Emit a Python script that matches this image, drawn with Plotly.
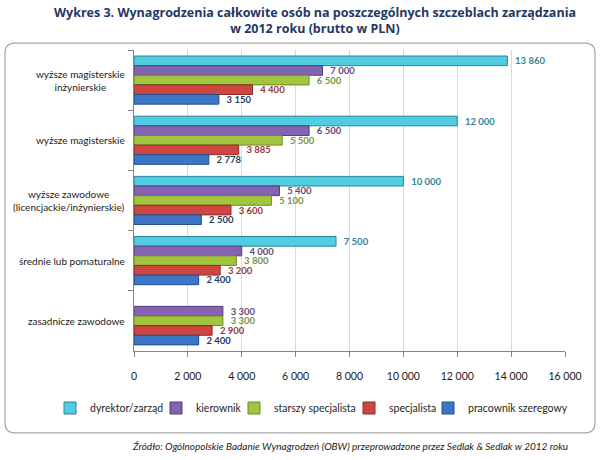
import plotly.graph_objects as go

categories = [
    "wyższe magisterskie<br>inżynierskie",
    "wyższe magisterskie",
    "wyższe zawodowe<br>(licencjackie/inżynierskie)",
    "średnie lub pomaturalne",
    "zasadnicze zawodowe",
]
series_names = ["dyrektor/zarząd", "kierownik", "starszy specjalista", "specjalista", "pracownik szeregowy"]
dyrektor = [13860, 12000, 10000, 7500, None]
kierownik = [7000, 6500, 5400, 4000, 3300]
starszy = [6500, 5500, 5100, 3800, 3300]
specjalista = [4400, 3885, 3600, 3200, 2900]
pracownik = [3150, 2778, 2500, 2400, 2400]
series_values = [dyrektor, kierownik, starszy, specjalista, pracownik]
x_ticks = [0, 2000, 4000, 6000, 8000, 10000, 12000, 14000, 16000]

bar_colors = ["#50CDE2", "#8463B3", "#A2C53F", "#CF4541", "#3D76C6"]
edge_colors = ["#2A8497", "#563D7C", "#6E8A25", "#8E2A27", "#234F8C"]
label_colors = ["#31859C", "#5F497A", "#77933C", "#953735", "#1F3864"]
legend_marker_px = [70, 176, 254, 369, 448]

def fmt(v):
    if v is None:
        return ""
    return "\u2002" + f"{v:,}".replace(",", " ")

legend_ids = ["legend", "legend2", "legend3", "legend4", "legend5"]

fig = go.Figure()
for name, vals, c, ec, lc, lid in zip(series_names, series_values, bar_colors, edge_colors, label_colors, legend_ids):
    fig.add_trace(go.Bar(
        y=categories, x=vals, name=name, orientation="h",
        marker=dict(color=c, line=dict(color=ec, width=1)),
        text=[fmt(v) for v in vals], textposition="outside",
        constraintext="none",
        textfont=dict(family="Lato", size=9.5, color=lc, weight="bold"),
        cliponaxis=False, legend=lid, showlegend=True,
    ))

L, R, T, B = 134, 35, 50, 105
W, H = 600, 460
pw, ph = W - L - R, H - T - B

def px_x(px):
    return (px - L) / pw

def px_y(py):
    return (H - B - py) / ph

# rounded border
x0, x1 = px_x(5), px_x(595)
y0, y1 = px_y(438), px_y(43)
rx, ry = 10 / pw, 10 / ph
path = (f"M {x0+rx},{y1} L {x1-rx},{y1} Q {x1},{y1} {x1},{y1-ry} "
        f"L {x1},{y0+ry} Q {x1},{y0} {x1-rx},{y0} L {x0+rx},{y0} "
        f"Q {x0},{y0} {x0},{y0+ry} L {x0},{y1-ry} Q {x0},{y1} {x0+rx},{y1} Z")

annotations = []
for cat in categories:
    annotations.append(dict(
        x=px_x(127), xref="paper", y=cat, yref="y", text=cat,
        xanchor="right", yanchor="middle", align="center", showarrow=False,
        font=dict(family="Lato", size=10, color="#1a1a1a"),
    ))
annotations.append(dict(
    x=0.5, xref="paper", y=px_y(451), yref="paper",
    text="<i>Źródło: Ogólnopolskie Badanie Wynagrodzeń (OBW) przeprowadzone przez Sedlak &amp; Sedlak w 2012 roku</i>",
    showarrow=False, xanchor="center", yanchor="middle",
    font=dict(family="Lato", size=10, color="#1a1a1a"),
))

legend_layouts = {}
for lid, mx in zip(legend_ids, legend_marker_px):
    legend_layouts[lid] = dict(
        orientation="h", x=(mx - 20) / W, xref="container", xanchor="left",
        y=1 - 408 / H, yref="container", yanchor="middle",
        font=dict(family="Lato", size=10.5, color="#262626"),
        itemwidth=30, bgcolor="rgba(0,0,0,0)", visible=True,
    )

fig.update_layout(
    width=W, height=H,
    margin=dict(l=L, r=R, t=T, b=B),
    paper_bgcolor="white", plot_bgcolor="white",
    showlegend=True,
    barmode="group", bargap=0.2, bargroupgap=0.0,
    separators=", ",
    title=dict(
        text="Wykres 3. Wynagrodzenia całkowite osób na poszczególnych szczeblach zarządzania<br>w 2012 roku (brutto w PLN)",
        x=315 / W, xanchor="center", y=1 - 17 / H, yanchor="middle",
        font=dict(family="Open Sans", size=12.5, color="#1F3864", weight="bold"),
    ),
    xaxis=dict(
        range=[0, 16000], tickvals=x_ticks, tickformat=",d",
        showgrid=True, gridcolor="#D9D9D9", gridwidth=1,
        showline=True, linecolor="#868686", linewidth=1,
        ticks="outside", ticklen=5, tickcolor="#868686",
        ticklabelstandoff=10,
        tickfont=dict(family="Lato", size=10.5, color="#1a1a1a"),
        zeroline=False,
    ),
    yaxis=dict(
        autorange="reversed", showticklabels=False,
        showline=True, linecolor="#868686", linewidth=1,
        ticks="outside", tickson="boundaries", ticklen=5, tickcolor="#868686",
        showgrid=False,
    ),
    shapes=[dict(type="path", path=path, xref="paper", yref="paper",
                 line=dict(color="#A6A6A6", width=1.2), layer="below")],
    annotations=annotations,
    **legend_layouts,
)

fig.write_html("out.html")
